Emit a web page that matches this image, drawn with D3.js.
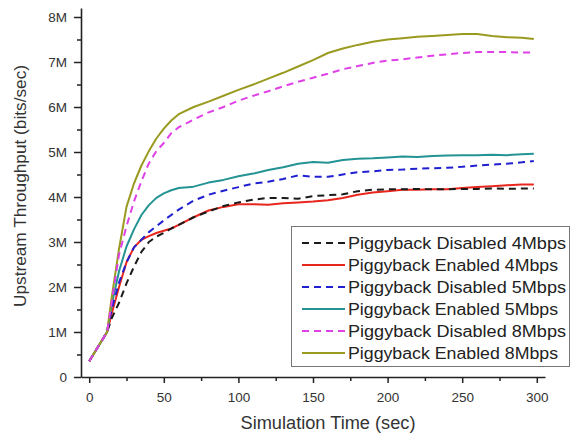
<!DOCTYPE html>
<html><head><meta charset="utf-8">
<script src="https://cdn.jsdelivr.net/npm/d3@7"></script>
<style>
body{margin:0;background:#fff;}
svg{display:block;font-family:Arial,"Liberation Sans",sans-serif;}
</style></head>
<body><svg id="chart" width="573" height="435"></svg>
<script>
const times = [0,5,12,15,20,25,30,35,40,45,50,55,60,70,80,90,100,110,120,130,140,150,160,170,180,190,200,210,220,230,240,250,260,270,280,290,298];
const disabled4 = [0.35,0.62,1.0,1.3,1.65,2.08,2.45,2.78,3.0,3.12,3.2,3.3,3.38,3.55,3.68,3.8,3.88,3.94,3.98,3.98,3.96,4.02,4.04,4.06,4.13,4.16,4.17,4.17,4.18,4.17,4.17,4.18,4.18,4.19,4.18,4.19,4.19];
const enabled4  = [0.35,0.62,1.0,1.4,2.0,2.55,2.88,3.05,3.13,3.2,3.25,3.3,3.38,3.55,3.7,3.78,3.84,3.84,3.83,3.86,3.88,3.9,3.93,3.98,4.05,4.1,4.13,4.16,4.16,4.17,4.17,4.2,4.22,4.24,4.26,4.28,4.28];
const disabled5 = [0.35,0.62,1.0,1.5,2.1,2.55,2.88,3.05,3.22,3.35,3.48,3.6,3.72,3.92,4.05,4.14,4.22,4.3,4.34,4.4,4.48,4.45,4.45,4.5,4.55,4.57,4.6,4.61,4.63,4.64,4.65,4.67,4.7,4.72,4.74,4.77,4.8];
const enabled5  = [0.35,0.62,1.0,1.6,2.35,2.9,3.28,3.6,3.82,3.98,4.08,4.15,4.2,4.23,4.32,4.38,4.46,4.52,4.6,4.66,4.74,4.78,4.76,4.82,4.85,4.86,4.88,4.9,4.89,4.91,4.92,4.93,4.93,4.94,4.93,4.95,4.96];
const disabled8 = [0.35,0.62,1.0,1.65,2.72,3.35,3.9,4.35,4.75,5.02,5.2,5.42,5.55,5.72,5.88,6.0,6.14,6.25,6.35,6.46,6.56,6.65,6.74,6.84,6.91,6.98,7.03,7.06,7.1,7.14,7.17,7.2,7.22,7.22,7.22,7.21,7.21];
const enabled8  = [0.35,0.62,1.0,1.75,2.85,3.78,4.3,4.7,5.02,5.3,5.52,5.7,5.84,6.0,6.12,6.25,6.38,6.5,6.63,6.76,6.9,7.04,7.2,7.3,7.38,7.45,7.5,7.53,7.56,7.58,7.6,7.62,7.62,7.58,7.55,7.54,7.51];
const seriesNames = ["Piggyback Disabled 4Mbps","Piggyback Enabled 4Mbps","Piggyback Disabled 5Mbps","Piggyback Enabled 5Mbps","Piggyback Disabled 8Mbps","Piggyback Enabled 8Mbps"];
const xTicks = [0,50,100,150,200,250,300];
const yTicks = [0,1,2,3,4,5,6,7,8];
const yTickLabels = ["0","1M","2M","3M","4M","5M","6M","7M","8M"];

const seriesValues = [disabled4, enabled4, disabled5, enabled5, disabled8, enabled8];
const colors = ["#1a1a1a","#e8261e","#2020d0","#239393","#e040e8","#9a9a20"];
const dashed = [true,false,true,false,true,false];

const svg = d3.select("#chart");
const x = d3.scaleLinear().domain([-5.5,305.5]).range([81,545]);
const y = d3.scaleLinear().domain([0,8.2]).range([377,8]);

// axes
const xAxis = d3.axisBottom(x).tickValues(xTicks).tickSize(6).tickSizeOuter(0).tickFormat(d3.format("d"));
const gx = svg.append("g").attr("transform","translate(0,377)").call(xAxis);
const xMinor = d3.axisBottom(x).tickValues([25,75,125,175,225,275]).tickSize(4).tickSizeOuter(0).tickFormat("");
const gxm = svg.append("g").attr("transform","translate(0,377)").call(xMinor);
gxm.select(".domain").remove();

const yAxis = d3.axisLeft(y).tickValues(yTicks).tickSize(7).tickSizeOuter(0).tickFormat((d,i)=>yTickLabels[i]);
const gy = svg.append("g").attr("transform","translate(81,0)").call(yAxis);
const yMinor = d3.axisLeft(y).tickValues([0.5,1.5,2.5,3.5,4.5,5.5,6.5,7.5]).tickSize(4).tickSizeOuter(0).tickFormat("");
const gym = svg.append("g").attr("transform","translate(81,0)").call(yMinor);
gym.select(".domain").remove();

[gx,gy,gxm,gym].forEach(g=>{
  g.selectAll("path.domain").attr("stroke","#222").attr("stroke-width",1.6);
  g.selectAll(".tick line").attr("stroke","#222").attr("stroke-width",1.5);
});
gx.selectAll(".tick text").attr("font-size",13.5).attr("fill","#333").attr("dy","1.15em").attr("font-family","Arial, 'Liberation Sans', sans-serif");
gy.selectAll(".tick text").attr("font-size",13.5).attr("fill","#333").attr("dx","-0.3em").attr("font-family","Arial, 'Liberation Sans', sans-serif");

// axis titles
svg.append("text").attr("x",328).attr("y",429).attr("text-anchor","middle")
  .attr("font-size",17.5).attr("fill","#333")
  .attr("textLength",175).attr("lengthAdjust","spacingAndGlyphs")
  .text("Simulation Time (sec)");
svg.append("text").attr("transform","translate(26,186) rotate(-90)").attr("text-anchor","middle")
  .attr("font-size",17).attr("fill","#333")
  .attr("textLength",242).attr("lengthAdjust","spacingAndGlyphs")
  .text("Upstream Throughput (bits/sec)");

// lines
const line = d3.line().x((d,i)=>x(times[i])).y(d=>y(d));
const drawOrder = [1,0,3,2,5,4];
drawOrder.forEach(k=>{
  svg.append("path").datum(seriesValues[k]).attr("d",line)
    .attr("fill","none").attr("stroke",colors[k]).attr("stroke-width",2)
    .attr("stroke-linejoin","round")
    .attr("stroke-dasharray",dashed[k]?"7,5":null);
});

// legend
const lg = svg.append("g");
lg.append("rect").attr("x",291.5).attr("y",226.5).attr("width",278).attr("height",140)
  .attr("fill","#fff").attr("stroke","#777").attr("stroke-width",1);
seriesNames.forEach((name,i)=>{
  const yy = 243 + i*22;
  lg.append("line").attr("x1",302).attr("x2",345).attr("y1",yy).attr("y2",yy)
    .attr("stroke",colors[i]).attr("stroke-width",2)
    .attr("stroke-dasharray",dashed[i]?"7,5":null);
  lg.append("text").attr("x",348).attr("y",yy).attr("dy","0.36em")
    .attr("font-size",16).attr("fill","#222")
    .attr("textLength", name.includes("Disabled") ? 218 : 210).attr("lengthAdjust","spacingAndGlyphs")
    .text(name);
});
</script>
</body></html>
